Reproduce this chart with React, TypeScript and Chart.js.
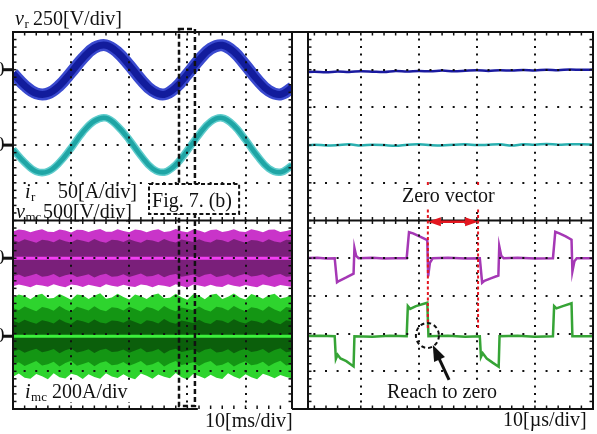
import React, { useEffect, useRef } from 'react';
import { Chart, registerables } from 'chart.js';

Chart.register(...registerables);

// ================= DATA: left panel (10 ms/div) =================
const sineTimeMs = [0, 2, 4, 6, 8, 10, 12, 14, 16, 18, 20, 22, 24, 26, 28, 30, 32, 34, 36, 38, 40, 42, 44, 46, 48];
// v_r [V] (250 V/div)
const vrSlowV = [-25, -105, -157, -158, -105, -18, 75, 145, 162, 115, 30, -65, -140, -164, -118, -30, 65, 140, 162, 118, 30, -65, -140, -164, -120];
// i_r [A] (50 A/div)
const irSlowA = [-6, -23, -35, -35, -23, -4, 17, 32, 36, 25, 7, -14, -31, -36, -26, -7, 14, 31, 36, 26, 7, -14, -31, -36, -27];

const bandTimeMs = [
  0, 1, 2, 3, 4, 5, 6, 7, 8, 9,
  10, 11, 12, 13, 14, 15, 16, 17, 18, 19,
  20, 21, 22, 23, 24, 25, 26, 27, 28, 29,
  30, 31, 32, 33, 34, 35, 36, 37, 38, 39,
  40, 41, 42, 43, 44, 45, 46, 47, 48,
];
// v_mc envelope [V] (500 V/div)
const vmcUpperV = [
  355, 380, 372, 345, 368, 385, 352, 348, 382, 366,
  342, 378, 374, 346, 370, 388, 350, 352, 384, 360,
  344, 380, 370, 343, 372, 383, 349, 356, 386, 358,
  345, 379, 368, 341, 375, 381, 347, 360, 383, 355,
  348, 384, 366, 344, 377, 379, 346, 362, 382,
];
const vmcLowerV = [
  -372, -350, -366, -384, -352, -362, -380, -347, -370, -386,
  -349, -358, -382, -351, -368, -385, -346, -364, -379, -353,
  -372, -383, -348, -360, -384, -355, -367, -381, -345, -369,
  -387, -350, -362, -378, -352, -374, -382, -347, -365, -380,
  -354, -371, -385, -349, -361, -383, -356, -368, -380,
];
const vmcCoreV = [
  240, 215, 250, 228, 205, 245, 235, 210, 252, 225,
  208, 248, 232, 212, 255, 222, 206, 246, 238, 214,
  250, 226, 204, 244, 236, 211, 253, 224, 209, 247,
  233, 215, 251, 220, 207, 249, 237, 213, 254, 227,
  205, 243, 234, 212, 252, 223, 208, 246, 239,
];
// i_mc envelope [A] (200 A/div)
const imcUpperA = [
  205, 222, 214, 196, 218, 226, 200, 203, 224, 210,
  194, 221, 217, 198, 215, 228, 199, 206, 225, 208,
  195, 222, 212, 197, 219, 227, 201, 204, 226, 207,
  193, 223, 216, 196, 220, 225, 198, 209, 227, 205,
  195, 224, 213, 199, 218, 226, 200, 207, 223,
];
const imcLowerA = [
  -215, -198, -220, -226, -200, -212, -228, -197, -218, -224,
  -199, -207, -227, -202, -216, -225, -196, -214, -222, -201,
  -219, -228, -198, -210, -226, -203, -215, -223, -195, -217,
  -229, -200, -211, -224, -204, -220, -227, -197, -213, -225,
  -202, -218, -228, -199, -209, -223, -205, -216, -224,
];
const imcMidA = [
  150, 138, 158, 145, 132, 155, 148, 135, 160, 142,
  130, 156, 147, 136, 159, 141, 133, 154, 150, 137,
  157, 144, 131, 155, 149, 134, 161, 143, 132, 153,
  146, 138, 158, 140, 131, 156, 151, 136, 160, 145,
  133, 154, 148, 135, 159, 142, 130, 155, 150,
];
const imcCoreA = [
  82, 70, 88, 76, 66, 85, 78, 68, 90, 74,
  65, 86, 80, 69, 89, 73, 67, 84, 81, 71,
  87, 75, 64, 85, 79, 68, 91, 74, 66, 83,
  77, 70, 88, 72, 65, 86, 82, 69, 90, 76,
  67, 84, 78, 68, 89, 73, 64, 85, 80,
];
const centerTimeMs = [0, 48];
const centerValue = [0, 0];

// ================= DATA: right panel (10 µs/div) =================
const fastTimeUs = [0, 2, 4, 6, 8, 10, 12, 14, 16, 18, 20, 22, 24, 26, 28, 30, 32, 34, 36, 38, 40, 42, 44, 46, 48, 50];
const vrFastV = [-18, -14, -17, -12, -15, -10, -13, -16, -9, -12, -8, -11, -6, -10, -7, -4, -8, -3, -6, -2, -5, 0, -3, 2, -1, 1];
const irFastA = [-1, 0.5, -0.5, 0, 1, -0.5, 0.5, 0, -1, 0.5, 1, 0, -0.5, 0.5, 1, 0, 0.5, 1, -0.5, 1, 0.5, 1.5, 0.5, 1, 1, 0.5];

const vmcFastTimeUs = [0, 2.5, 4, 5.5, 5.9, 6.3, 7.5, 8.75, 8.9, 9.2, 9.6, 12, 14, 16, 17.9, 18.3, 19, 20.2, 21.45, 21.6, 21.9, 22.4, 25, 28, 30.5, 30.9, 31.3, 32.5, 33.7, 33.85, 34.2, 34.6, 37, 40, 43.1, 43.5, 44.2, 45.3, 46.3, 46.45, 46.8, 47.2, 50];
const vmcFastV = [0, 5, -5, 0, -320, -300, -255, -205, 135, 30, 0, 5, -5, 0, 0, 345, 330, 285, 240, -240, -60, 0, 5, -5, 0, -325, -300, -265, -230, 160, 30, 0, 5, -5, 0, 350, 330, 290, 245, -175, -40, 0, 0];

const imcFastTimeUs = [0, 3, 5.5, 5.7, 6.0, 6.5, 7.5, 8.75, 8.9, 12, 15, 17.9, 18.1, 18.5, 19.5, 21.45, 21.65, 25, 28, 30.5, 30.7, 31.0, 31.7, 32.7, 33.75, 33.9, 37, 40, 43.1, 43.3, 43.7, 44.8, 46.3, 46.45, 50];
const imcFastA = [0, 3, 0, -120, -98, -118, -132, -160, 0, -3, 3, 0, 160, 145, 160, 178, 0, 3, -3, 0, -110, -90, -118, -140, -162, 0, 3, -3, 0, 160, 148, 160, 175, 0, 0];

// Channel settings: units per division, zero level (divisions from screen bottom, 10 div high)
const VR_PER_DIV = 250, IR_PER_DIV = 50, VMC_PER_DIV = 500, IMC_PER_DIV = 200;
const VR_ZERO = 9, IR_ZERO = 7, VMC_ZERO = 4, IMC_ZERO = 1.93;

// Axis ranges and graticule
const LEFT_MIN_MS = 0, LEFT_MAX_MS = 48;
const RIGHT_MIN_US = 0.9, RIGHT_MAX_US = 50;
const GRID_TIME = [10, 20, 30, 40];
const GRID_DIV = [1, 2, 3, 4, 6, 7, 8, 9];

// Annotations (data units)
const ZOOM_BOX_MS = [28.56, 31.3];
const FIG_BOX_MS = [23.4, 38.9];
const FIG_BOX_DIV = [5.97, 5.17];
const LEFT_BASELINE_END_MS = 31.8;
const ZERO_VECTOR_US = [21.55, 30.2];
const ZERO_VECTOR_DIV = [6.02, 2.15];
const ARROW_DIV = 4.97;
const CIRCLE_AT = [21.47, 1.95];
const POINTER_FROM = [25.2, 0.77];
const POINTER_TO = [22.4, 1.7];

// ================= LAYOUT =================
const W = 597, H = 434;
const TOP = 32, BOTTOM = 409;
const L_LEFT = 13, L_RIGHT = 292;
const R_LEFT = 308, R_RIGHT = 593;
const SERIF = '"Liberation Serif", "Times New Roman", Times, serif';
const RED = '#e3161f';
const INK = '#111';

const pts = (xs: number[], ys: number[], perDiv: number, zero: number, sign = 1) =>
  xs.map((x, i) => ({ x, y: zero + (sign * ys[i]) / perDiv }));

const lineDs = (data: any[], color: string, width: number, order: number, tension = 0) => ({
  data, borderColor: color, borderWidth: width, pointRadius: 0, fill: false, tension, order, clip: 0,
});
const fillDs = (data: any[], color: string, order: number) => ({
  data, borderColor: 'rgba(0,0,0,0)', borderWidth: 1, backgroundColor: color, fill: '+1', pointRadius: 0, tension: 0, order, clip: 0,
});
const edgeDs = (data: any[], order: number) => ({
  data, borderColor: 'rgba(0,0,0,0)', borderWidth: 1, fill: false, pointRadius: 0, tension: 0, order, clip: 0,
});

const scaleOpts = (min: number, max: number, ticks: number[], dash: number[], dashOffset: number) => ({
  type: 'linear', min, max, display: true,
  afterBuildTicks: (axis: any) => { axis.ticks = ticks.map((value) => ({ value })); },
  ticks: { display: false },
  grid: { color: INK, lineWidth: 2, drawTicks: false, z: 1 },
  border: { display: false, dash, dashOffset },
});

function seg(ctx: CanvasRenderingContext2D, x1: number, y1: number, x2: number, y2: number) {
  ctx.beginPath(); ctx.moveTo(x1, y1); ctx.lineTo(x2, y2); ctx.stroke();
}
function channelLabel(ctx: CanvasRenderingContext2D, x: number, y: number, sym: string, sub: string, rest: string, restX: number) {
  ctx.fillStyle = INK; ctx.textAlign = 'left'; ctx.textBaseline = 'alphabetic';
  ctx.font = `italic 20px ${SERIF}`; ctx.fillText(sym, x, y);
  const w = ctx.measureText(sym).width;
  ctx.font = `13px ${SERIF}`; ctx.fillText(sub, x + w + 0.5, y + 3);
  ctx.font = `20px ${SERIF}`; ctx.fillText(rest, restX, y);
}
function text(ctx: CanvasRenderingContext2D, s: string, x: number, y: number, bg = false) {
  ctx.font = `20px ${SERIF}`; ctx.textAlign = 'left'; ctx.textBaseline = 'alphabetic';
  if (bg) { const w = ctx.measureText(s).width; ctx.fillStyle = '#fff'; ctx.fillRect(x - 2, y - 16, w + 4, 21); }
  ctx.fillStyle = INK; ctx.fillText(s, x, y);
}
function head(ctx: CanvasRenderingContext2D, tx: number, ty: number, fx: number, fy: number, len: number, half: number) {
  const a = Math.atan2(ty - fy, tx - fx);
  const bx = tx - len * Math.cos(a), by = ty - len * Math.sin(a);
  ctx.beginPath(); ctx.moveTo(tx, ty);
  ctx.lineTo(bx + half * Math.sin(a), by - half * Math.cos(a));
  ctx.lineTo(bx - half * Math.sin(a), by + half * Math.cos(a));
  ctx.closePath(); ctx.fill();
}
function minorTicks(chart: any, xFrom: number, xTo: number) {
  const { ctx, chartArea: a } = chart;
  const xs = chart.scales.x, ys = chart.scales.y;
  const mid = ys.getPixelForValue(5);
  ctx.lineWidth = 1.5; ctx.strokeStyle = INK; ctx.setLineDash([]);
  for (let t = xFrom; t <= xTo + 1e-6; t += 2) {
    const px = xs.getPixelForValue(t);
    seg(ctx, px, a.top, px, a.top + 3.5);
    seg(ctx, px, a.bottom, px, a.bottom - 3.5);
    seg(ctx, px, mid - 3.5, px, mid + 3.5);
  }
  for (let k = 1; k < 50; k++) {
    const py = ys.getPixelForValue(k * 0.2);
    seg(ctx, a.left, py, a.left + 3.5, py);
    seg(ctx, a.right, py, a.right - 3.5, py);
  }
}

function drawLeftOverlay(chart: any) {
  const { ctx, chartArea: a } = chart;
  const X = (v: number) => chart.scales.x.getPixelForValue(v);
  const Y = (v: number) => chart.scales.y.getPixelForValue(v);
  ctx.save();
  // label backgrounds
  ctx.fillStyle = '#fff';
  ctx.fillRect(22, 184, 118, 19);
  ctx.fillRect(14, 203, 127, 16);
  ctx.fillRect(22, 382, 110, 20);
  channelLabel(ctx, 15, 25, 'v', 'r', '250[V/div]', 33);
  channelLabel(ctx, 25, 198, 'i', 'r', '50[A/div]', 58);
  channelLabel(ctx, 16, 218, 'v', 'mc', '500[V/div]', 43);
  channelLabel(ctx, 25, 398, 'i', 'mc', '200A/div', 52);
  text(ctx, '10[ms/div]', 205, 427);
  // frame
  ctx.strokeStyle = INK; ctx.lineWidth = 2; ctx.setLineDash([]);
  seg(ctx, a.left, a.top - 1, a.left, a.bottom + 1);
  seg(ctx, a.left, a.top, a.right + 8, a.top);
  seg(ctx, a.right, a.top, a.right, a.bottom);
  seg(ctx, a.right, a.bottom, a.right + 8, a.bottom);
  seg(ctx, a.left, a.bottom, X(LEFT_BASELINE_END_MS), a.bottom);
  seg(ctx, a.left, Y(5), a.right, Y(5));
  minorTicks(chart, 2, 46);
  // zero markers
  ctx.fillStyle = INK; ctx.font = `20px ${SERIF}`; ctx.textAlign = 'right'; ctx.textBaseline = 'middle';
  for (const z of [VR_ZERO, IR_ZERO, VMC_ZERO, IMC_ZERO]) {
    const py = Y(z);
    ctx.fillText('0', 4.5, py + 1);
    ctx.fillRect(3, py - 1.5, a.left - 3, 3);
  }
  // zoom box
  ctx.setLineDash([5, 3]); ctx.lineWidth = 2.5; ctx.strokeStyle = INK;
  ctx.strokeRect(X(ZOOM_BOX_MS[0]), a.top - 3, X(ZOOM_BOX_MS[1]) - X(ZOOM_BOX_MS[0]), a.bottom - a.top);
  // Fig. 7 (b) box
  const fx1 = X(FIG_BOX_MS[0]), fx2 = X(FIG_BOX_MS[1]), fy1 = Y(FIG_BOX_DIV[0]), fy2 = Y(FIG_BOX_DIV[1]);
  ctx.setLineDash([]); ctx.fillStyle = '#fff'; ctx.fillRect(fx1, fy1, fx2 - fx1, fy2 - fy1);
  ctx.setLineDash([4, 2.5]); ctx.lineWidth = 2; ctx.strokeRect(fx1, fy1, fx2 - fx1, fy2 - fy1);
  ctx.setLineDash([]);
  text(ctx, 'Fig. 7. (b)', fx1 + 3, 207);
  ctx.restore();
}

function drawRightOverlay(chart: any) {
  const { ctx, chartArea: a } = chart;
  const X = (v: number) => chart.scales.x.getPixelForValue(v);
  const Y = (v: number) => chart.scales.y.getPixelForValue(v);
  ctx.save();
  ctx.strokeStyle = INK; ctx.lineWidth = 2; ctx.setLineDash([]);
  seg(ctx, a.left - 13, a.top, a.right, a.top);
  seg(ctx, a.left - 13, a.bottom, a.right, a.bottom);
  seg(ctx, a.left, a.top - 1, a.left, a.bottom + 1);
  seg(ctx, a.right, a.top - 1, a.right, a.bottom + 1);
  seg(ctx, a.left, Y(5), a.right, Y(5));
  minorTicks(chart, 2, 48);
  // zero-vector markers
  ctx.strokeStyle = RED; ctx.fillStyle = RED; ctx.lineWidth = 2; ctx.setLineDash([3, 2.5]);
  for (const t of ZERO_VECTOR_US) seg(ctx, X(t), Y(ZERO_VECTOR_DIV[0]), X(t), Y(ZERO_VECTOR_DIV[1]));
  ctx.setLineDash([]); ctx.lineWidth = 2.5;
  const ax1 = X(ZERO_VECTOR_US[0]), ax2 = X(ZERO_VECTOR_US[1]), ay = Y(ARROW_DIV);
  seg(ctx, ax1 + 8, ay, ax2 - 8, ay);
  head(ctx, ax1, ay, ax2, ay, 13, 4.5);
  head(ctx, ax2, ay, ax1, ay, 13, 4.5);
  text(ctx, 'Zero vector', 402, 202, true);
  // reach-to-zero circle and pointer
  ctx.strokeStyle = INK; ctx.fillStyle = INK; ctx.lineWidth = 2; ctx.setLineDash([4, 3]);
  ctx.beginPath(); ctx.ellipse(X(CIRCLE_AT[0]), Y(CIRCLE_AT[1]), 11.5, 12.5, 0, 0, Math.PI * 2); ctx.stroke();
  ctx.setLineDash([]);
  text(ctx, 'Reach to zero', 387, 398, true);
  ctx.strokeStyle = INK; ctx.fillStyle = INK; ctx.lineWidth = 3;
  const px1 = X(POINTER_FROM[0]), py1 = Y(POINTER_FROM[1]), px2 = X(POINTER_TO[0]), py2 = Y(POINTER_TO[1]);
  const ang = Math.atan2(py2 - py1, px2 - px1);
  seg(ctx, px1, py1, px2 - 12 * Math.cos(ang), py2 - 12 * Math.sin(ang));
  head(ctx, px2, py2, px1, py1, 16, 6);
  text(ctx, '10[µs/div]', 503, 426);
  ctx.restore();
}

function leftConfig(): any {
  const hPeriod = ((L_RIGHT - L_LEFT) / (LEFT_MAX_MS - LEFT_MIN_MS)) * 2;
  const vPeriod = (BOTTOM - TOP) / 50;
  return {
    type: 'line',
    data: {
      datasets: [
        lineDs(pts(sineTimeMs, vrSlowV, VR_PER_DIV, VR_ZERO), '#3a4acf', 12, 2, 0.4),
        lineDs(pts(sineTimeMs, vrSlowV, VR_PER_DIV, VR_ZERO), '#121c9c', 7, 1, 0.4),
        lineDs(pts(sineTimeMs, irSlowA, IR_PER_DIV, IR_ZERO), '#5fcccc', 7.5, 2, 0.4),
        lineDs(pts(sineTimeMs, irSlowA, IR_PER_DIV, IR_ZERO), '#1fa5a5', 4.5, 1, 0.4),
        fillDs(pts(bandTimeMs, vmcUpperV, VMC_PER_DIV, VMC_ZERO), '#c934c9', 6),
        edgeDs(pts(bandTimeMs, vmcLowerV, VMC_PER_DIV, VMC_ZERO), 6),
        fillDs(pts(bandTimeMs, vmcCoreV, VMC_PER_DIV, VMC_ZERO), '#7a1f7a', 5),
        edgeDs(pts(bandTimeMs, vmcCoreV, VMC_PER_DIV, VMC_ZERO, -1), 5),
        lineDs(pts(centerTimeMs, centerValue, VMC_PER_DIV, VMC_ZERO), '#f23ef2', 3, 3),
        fillDs(pts(bandTimeMs, imcUpperA, IMC_PER_DIV, IMC_ZERO), '#2ed42e', 6),
        edgeDs(pts(bandTimeMs, imcLowerA, IMC_PER_DIV, IMC_ZERO), 6),
        fillDs(pts(bandTimeMs, imcMidA, IMC_PER_DIV, IMC_ZERO), '#149614', 5),
        edgeDs(pts(bandTimeMs, imcMidA, IMC_PER_DIV, IMC_ZERO, -1), 5),
        fillDs(pts(bandTimeMs, imcCoreA, IMC_PER_DIV, IMC_ZERO), '#0b5f0b', 4),
        edgeDs(pts(bandTimeMs, imcCoreA, IMC_PER_DIV, IMC_ZERO, -1), 4),
        lineDs(pts(centerTimeMs, centerValue, IMC_PER_DIV, IMC_ZERO), '#3cf03c', 3, 3),
      ],
    },
    options: {
      animation: false, responsive: false, devicePixelRatio: 1, events: [],
      layout: { autoPadding: false, padding: { left: L_LEFT, right: W - L_RIGHT, top: TOP, bottom: H - BOTTOM } },
      plugins: { legend: { display: false }, tooltip: { enabled: false }, title: { display: false } },
      scales: {
        x: { ...scaleOpts(LEFT_MIN_MS, LEFT_MAX_MS, GRID_TIME, [2, vPeriod - 2], 1), position: 'bottom' },
        y: { ...scaleOpts(0, 10, GRID_DIV, [2, hPeriod - 2], 1), position: 'left' },
      },
    },
    plugins: [{ id: 'leftOverlay', afterDraw: drawLeftOverlay }],
  };
}

function rightConfig(): any {
  const pxPerUs = (R_RIGHT - R_LEFT) / (RIGHT_MAX_US - RIGHT_MIN_US);
  const hPeriod = pxPerUs * 2;
  const shift = (2 - RIGHT_MIN_US) * pxPerUs;
  const hOffset = (((hPeriod + 1 - shift) % hPeriod) + hPeriod) % hPeriod;
  const vPeriod = (BOTTOM - TOP) / 50;
  return {
    type: 'line',
    data: {
      datasets: [
        lineDs(pts(fastTimeUs, vrFastV, VR_PER_DIV, VR_ZERO), '#1a1aa0', 2.5, 0, 0.3),
        lineDs(pts(fastTimeUs, irFastA, IR_PER_DIV, IR_ZERO), '#2bb0b0', 2.5, 0, 0.3),
        lineDs(pts(vmcFastTimeUs, vmcFastV, VMC_PER_DIV, VMC_ZERO), '#a538b5', 2.5, 0),
        lineDs(pts(imcFastTimeUs, imcFastA, IMC_PER_DIV, IMC_ZERO), '#36a436', 2.5, 0),
      ],
    },
    options: {
      animation: false, responsive: false, devicePixelRatio: 1, events: [],
      layout: { autoPadding: false, padding: { left: R_LEFT, right: W - R_RIGHT, top: TOP, bottom: H - BOTTOM } },
      plugins: { legend: { display: false }, tooltip: { enabled: false }, title: { display: false } },
      scales: {
        x: { ...scaleOpts(RIGHT_MIN_US, RIGHT_MAX_US, GRID_TIME, [2, vPeriod - 2], 1), position: 'bottom' },
        y: { ...scaleOpts(0, 10, GRID_DIV, [2, hPeriod - 2], hOffset), position: 'left' },
      },
    },
    plugins: [{ id: 'rightOverlay', afterDraw: drawRightOverlay }],
  };
}

export default function App() {
  const leftRef = useRef<HTMLCanvasElement>(null);
  const rightRef = useRef<HTMLCanvasElement>(null);
  useEffect(() => {
    const left = new Chart(leftRef.current as HTMLCanvasElement, leftConfig());
    const right = new Chart(rightRef.current as HTMLCanvasElement, rightConfig());
    return () => { left.destroy(); right.destroy(); };
  }, []);
  const cs: React.CSSProperties = { position: 'absolute', left: 0, top: 0, width: W, height: H };
  return (
    <div style={{ position: 'fixed', left: 0, top: 0, width: W, height: H, background: '#fff' }}>
      <canvas ref={leftRef} width={W} height={H} style={cs} />
      <canvas ref={rightRef} width={W} height={H} style={cs} />
    </div>
  );
}
